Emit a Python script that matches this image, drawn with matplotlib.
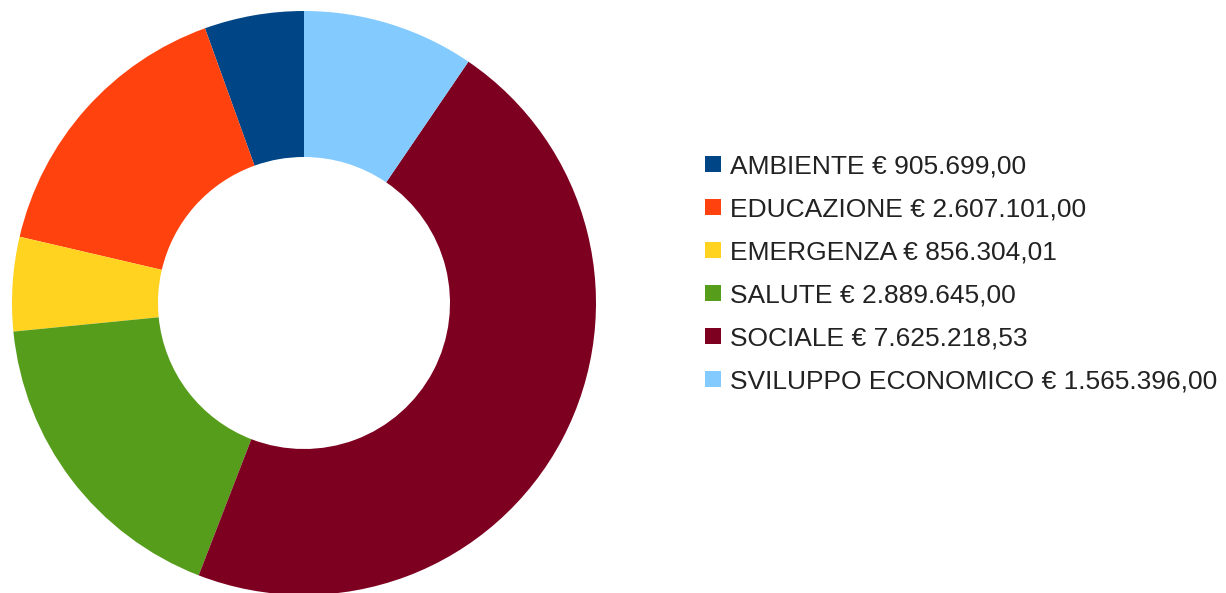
import matplotlib.pyplot as plt
from matplotlib.patches import Patch

CATEGORIES = ["AMBIENTE", "EDUCAZIONE", "EMERGENZA", "SALUTE", "SOCIALE",
              "SVILUPPO ECONOMICO"]
AMOUNTS = [905699.00, 2607101.00, 856304.01, 2889645.00, 7625218.53, 1565396.00]
AMOUNT_LABELS = ["905.699,00", "2.607.101,00", "856.304,01", "2.889.645,00",
                 "7.625.218,53", "1.565.396,00"]
COLORS = ["#004586", "#ff420e", "#ffd320", "#579d1c", "#7e0021", "#83caff"]

W, H = 1226, 593
plt.rcParams["font.family"] = ["Liberation Sans", "DejaVu Sans"]

fig = plt.figure(figsize=(W / 100, H / 100), dpi=100)

# donut: centre (304, 303) px, outer radius 292 px
cx, cy, r = 304, 303, 292
ax = fig.add_axes([(cx - r) / W, (H - cy - r) / H, 2 * r / W, 2 * r / H])
ax.pie(AMOUNTS, colors=COLORS, startangle=90, counterclock=True, radius=1,
       wedgeprops=dict(width=0.5, linewidth=0))
ax.set_xlim(-1, 1)
ax.set_ylim(-1, 1)
ax.axis("off")

handles = [Patch(facecolor=c, edgecolor="none") for c in COLORS]
labels = [f"{n} € {a}" for n, a in zip(CATEGORIES, AMOUNT_LABELS)]
fig.legend(handles, labels, loc="upper left",
           bbox_to_anchor=(692 / W, 1 - 141 / H), frameon=False,
           fontsize=19, handlelength=0.6, handleheight=0.6,
           handletextpad=0.35, labelspacing=0.72, borderpad=0,
           labelcolor="#222222")

fig.savefig("out.png", dpi=100)
